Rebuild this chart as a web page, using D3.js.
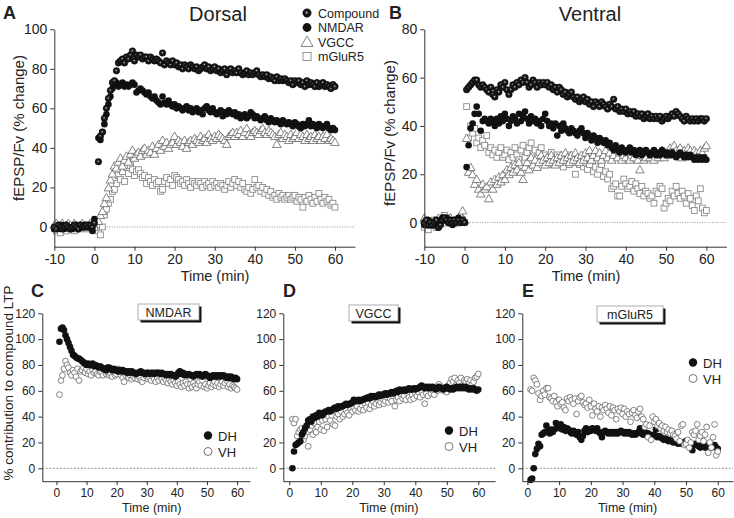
<!DOCTYPE html>
<html><head><meta charset="utf-8">
<script src="https://cdn.jsdelivr.net/npm/d3@7"></script>
<style>body{margin:0;background:#fff}svg{display:block}text{font-family:"Liberation Sans",Arial,sans-serif;fill:#222}</style>
</head><body>
<script>
// ---------- DATA ----------
// Panel A (Dorsal): pre-baseline t=-10..0 step 0.5 ; post t=1..60 step 0.5
const A_pre_compound=[0,-1,1,0,-1,0,1,0,-1,0,1,0,-1,1,0,0,1,0,1,0,2];
const A_pre_nmdar=[-1,0,-1,0,1,-1,0,0,-1,-1,0,1,-1,0,0,1,0,1,0,-2,4];
const A_pre_vgcc=[1,2,0,1,2,0,1,2,1,0,2,1,0,1,2,1,0,1,2,1,0];
const A_pre_mglur5=[-1,-2,0,-3,-1,0,-2,1,-1,0,-2,-1,0,-1,1,0,-1,0,1,-1,-1];
const A_compound=[33,46,48,55,60,65,69,73,74,79,83,84,85,83,86,85,87,89,84,87,86,87,85,86,86,84,86,85,84,85,84,83,88,82,84,83,82,84,82,83,81,82,80,82,81,80,82,81,80,81,79,80,81,82,80,81,79,80,81,79,80,78,79,80,77,79,80,78,79,78,80,78,77,78,79,77,78,77,78,79,77,76,77,76,77,75,76,75,74,76,74,75,74,75,74,73,74,72,74,73,74,72,73,71,74,72,73,72,71,73,71,72,73,71,72,71,70,72,71];
const A_nmdar=[45,44,48,52,57,62,66,70,72,73,71,72,73,71,72,71,72,73,72,68,69,70,69,68,67,68,66,65,66,64,63,62,66,63,62,64,62,61,62,60,61,60,59,60,61,59,60,58,59,60,58,59,57,60,61,59,58,60,58,57,58,59,56,58,57,59,58,57,58,56,57,55,56,57,55,56,58,57,55,56,55,54,55,56,54,53,55,54,53,54,53,52,54,53,52,53,52,51,53,52,51,50,52,51,52,54,51,52,51,50,52,51,50,51,52,50,49,50,49];
const A_vgcc=[3,6,8,12,15,20,24,27,31,30,33,35,31,34,36,33,37,39,35,37,38,36,39,40,37,39,38,41,37,40,42,39,44,41,43,40,42,43,46,42,44,43,41,44,40,43,44,42,45,44,43,46,44,45,43,47,45,44,46,45,47,46,45,44,42,46,47,48,46,48,47,49,46,48,50,47,46,48,49,48,47,49,50,48,47,49,48,47,46,42,47,48,45,47,46,44,47,45,46,48,45,47,46,44,47,45,46,44,47,45,46,44,46,45,47,44,45,44,43];
const A_mglur5=[-2,-4,0,6,9,12,14,18,19,22,26,24,28,23,30,27,31,29,26,28,29,27,25,26,22,25,23,21,24,22,23,18,19,23,25,22,24,21,26,25,24,22,23,21,24,22,20,23,22,21,23,22,20,23,21,22,20,23,21,22,20,22,21,19,21,23,20,22,24,21,23,20,22,19,18,20,17,19,24,20,21,18,20,17,19,16,18,15,16,14,17,15,16,14,15,16,14,15,16,13,15,14,10,15,13,16,14,12,15,13,17,14,12,15,13,14,11,12,10];
// Panel B (Ventral): pre t=-10..0 step 0.5 ; post t=0.5..60 step 0.5
const B_pre_compound=[0,1,-1,0,-1,0,1,-2,-1,1,2,1,0,1,0,1,0,1,0,1,0];
const B_pre_nmdar=[-1,0,1,-1,0,-1,1,-2,0,2,1,2,0,1,-1,0,1,2,1,0,0];
const B_pre_vgcc=[2,0,1,-1,0,1,-1,0,1,2,1,0,1,2,0,1,0,2,3,5,1];
const B_pre_mglur5=[-2,-1,-3,0,-1,1,-2,0,2,1,3,1,2,0,1,0,1,0,2,1,0];
const B_compound=[55,56,57,58,59,59,57,56,57,56,55,54,56,53,52,55,54,57,56,58,55,53,55,57,56,58,57,59,58,60,58,56,57,59,58,56,58,57,58,57,58,56,57,55,56,54,56,55,53,54,52,53,54,52,51,52,50,51,52,50,51,49,50,48,50,49,48,50,49,48,47,49,48,51,47,48,46,47,46,47,45,46,45,46,44,45,44,45,43,44,45,43,44,43,44,43,44,42,43,44,43,44,45,44,46,45,44,43,42,44,43,42,43,42,43,42,43,43,42,43];
const B_nmdar=[23,32,39,41,45,48,45,38,42,43,42,41,43,42,40,43,41,44,42,45,43,40,42,44,43,41,45,42,44,46,43,41,44,42,43,41,42,40,43,45,42,40,41,39,41,36,40,38,41,39,38,37,39,38,37,36,38,39,37,35,37,36,34,36,35,33,35,34,33,34,32,33,31,30,32,30,29,31,30,29,30,31,29,30,28,29,30,28,29,30,29,28,29,30,28,29,28,30,29,28,29,28,29,28,27,28,29,28,27,28,27,28,27,26,27,26,27,26,27,26];
const B_vgcc=[35,21,23,20,16,18,14,12,16,14,15,10,17,14,18,16,19,17,20,18,22,20,23,21,24,22,25,21,18,23,25,22,27,24,26,23,25,28,26,24,27,25,28,26,24,27,25,28,26,29,27,25,28,26,29,27,25,28,26,29,27,30,26,28,30,27,29,26,28,30,27,29,26,28,30,27,29,26,28,27,29,26,28,27,29,26,22,28,26,27,29,27,28,26,29,27,28,30,27,29,28,31,29,32,30,29,31,27,30,28,31,30,28,30,29,28,30,29,31,32];
const B_mglur5=[48,35,40,37,39,33,35,31,34,32,36,29,31,28,30,27,29,31,27,28,30,26,29,27,31,28,26,30,32,27,29,31,33,28,30,27,29,31,26,28,25,27,29,24,26,28,25,27,23,26,28,24,27,25,20,26,24,27,23,25,22,24,26,21,23,20,22,24,19,21,18,20,14,15,16,11,11,15,18,16,14,15,17,13,16,14,12,15,11,13,12,10,11,8,13,12,15,14,6,8,10,9,13,11,15,12,10,13,11,8,12,10,7,5,11,9,14,6,4,5];
// Panels C-E: % contribution, t=1..60 step 0.5
const C_dh=[98,108,109,107,103,100,97,94,91,88,87,86,85,85,84,83,82,81,80,81,80,80,81,79,80,79,78,79,78,77,77,76,78,78,77,76,77,76,76,75,76,75,76,75,75,74,75,74,75,74,74,73,74,74,75,74,74,73,74,74,73,74,74,73,74,74,74,73,74,73,73,72,73,72,73,72,72,71,72,74,75,73,74,72,73,72,73,72,72,71,72,73,72,73,72,71,72,73,72,71,70,71,72,71,72,71,72,71,72,72,71,70,71,70,71,70,69,70,69];
const C_vh=[57,68,72,77,83,80,78,74,72,76,74,71,77,68,75,76,78,74,77,73,75,72,76,74,75,73,72,75,74,72,76,73,74,72,73,71,74,72,73,77,74,72,70,67,72,73,70,72,69,71,70,72,69,71,68,67,70,72,71,69,70,68,71,69,67,70,68,71,69,67,70,68,66,69,67,65,68,66,64,67,65,63,66,64,67,65,62,65,63,66,64,62,65,67,64,68,63,65,62,64,66,63,65,67,64,66,63,65,67,64,66,68,63,65,62,64,63,62,61];
const D_dh=[0,13,18,19,20,21,26,28,31,33,37,38,36,40,39,41,40,43,42,41,43,44,44,45,44,45,46,47,46,48,47,48,48,49,50,49,50,50,51,53,52,52,53,52,53,53,54,54,55,54,56,55,56,55,56,57,56,57,57,58,57,58,58,59,58,59,60,59,61,60,60,61,60,61,62,61,61,62,61,62,62,63,64,63,62,63,62,63,62,63,62,61,62,63,62,62,61,62,63,62,61,62,61,62,63,62,63,62,63,62,63,62,61,62,61,62,61,60,61];
const D_vh=[38,35,38,25,28,30,31,22,25,28,17,30,33,26,35,28,32,36,30,37,29,38,32,40,37,41,34,33,40,42,38,44,40,42,45,43,41,46,44,47,45,48,44,46,49,45,50,47,51,46,49,52,48,50,53,49,51,54,50,52,55,51,54,52,56,48,53,55,52,57,54,56,53,58,55,53,57,54,58,56,59,55,60,57,50,58,56,62,58,60,57,63,60,65,61,63,60,62,59,64,66,69,67,70,65,68,66,70,64,68,67,69,66,68,65,67,70,71,73];
const E_dh=[-9,-8,0,11,15,19,17,26,27,28,33,29,27,30,28,30,35,32,31,34,30,32,29,31,30,28,27,29,28,26,28,24,22,25,29,31,28,30,29,31,30,29,31,28,27,24,28,29,28,27,28,27,28,27,28,27,28,29,28,27,28,27,28,27,26,27,26,27,28,31,27,26,28,26,27,25,26,25,26,30,24,25,24,23,22,23,22,21,22,21,20,21,20,19,20,19,20,19,21,20,18,19,14,18,19,18,17,16,17,18,16,17,18,17,16,17,18,16,15];
const E_vh=[61,60,70,68,65,58,53,56,60,57,62,62,55,54,52,56,51,48,53,50,51,47,45,54,52,55,53,50,54,42,52,55,56,51,49,50,47,53,48,41,50,46,44,48,40,47,45,49,46,43,48,41,47,45,38,46,44,47,42,46,40,44,42,36,43,45,41,39,44,46,40,38,32,34,24,33,22,40,36,38,33,35,31,33,29,32,28,30,27,29,26,25,23,28,21,33,34,18,19,22,16,20,28,26,29,34,22,25,28,21,26,32,12,20,16,24,34,10,13];
// tick values
const abXTicks=[-10,0,10,20,30,40,50,60];
const aYTicks=[0,20,40,60,80,100];
const bYTicks=[0,20,40,60,80];
const cXTicks=[0,10,20,30,40,50,60];
const cYTicks=[0,20,40,60,80,100,120];
const legendA=["Compound","NMDAR","VGCC","mGluR5"];

// ---------- DRAW ----------
const W=734,H=518;
const svg=d3.select("body").append("svg").attr("width",W).attr("height",H);
const defs=svg.append("defs");
const g1=defs.append("radialGradient").attr("id","sph").attr("cx","0.5").attr("cy","0.5").attr("r","0.5").attr("fx","0.45").attr("fy","0.42");
g1.append("stop").attr("offset","0").attr("stop-color","#e8e8e8");
g1.append("stop").attr("offset","0.16").attr("stop-color","#777");
g1.append("stop").attr("offset","0.38").attr("stop-color","#222");
g1.append("stop").attr("offset","1").attr("stop-color","#080808");

const toPts=(arr,t0)=>arr.map((v,i)=>({t:t0+i*0.5,v}));
const AX="#333";

function axes(x,y,xt,yt,fs){
  const gx=svg.append("g").attr("transform",`translate(0,${y.range()[0]})`)
    .call(d3.axisBottom(x).tickValues(xt).tickFormat(d=>String(d)).tickSize(4).tickSizeOuter(0).tickPadding(3));
  const gy=svg.append("g").attr("transform",`translate(${x.range()[0]},0)`)
    .call(d3.axisLeft(y).tickValues(yt).tickFormat(d=>String(d)).tickSize(4).tickSizeOuter(0).tickPadding(3));
  [gx,gy].forEach(g=>{g.selectAll("path,line").attr("stroke",AX).attr("stroke-width",1);
    g.selectAll("text").style("font-family","'Liberation Sans',Arial,sans-serif").style("font-size",fs+"px").attr("fill","#222");});
}
function zeroLine(x,y,x0,x1,dash){
  svg.append("line").attr("x1",x0).attr("x2",x1).attr("y1",y(0)).attr("y2",y(0))
    .attr("stroke","#777").attr("stroke-width",0.8).attr("stroke-dasharray",dash);
}
function squares(x,y,pts,s){
  svg.append("g").selectAll("rect").data(pts).join("rect")
   .attr("x",d=>x(d.t)-s/2).attr("y",d=>y(d.v)-s/2).attr("width",s).attr("height",s)
   .attr("fill","#fff").attr("stroke","#8a8a8a").attr("stroke-width",0.9);
}
function tri(x,y,pts,s){
  const p=d3.symbol().type(d3.symbolTriangle).size(s);
  svg.append("g").selectAll("path").data(pts).join("path")
   .attr("d",p).attr("transform",d=>`translate(${x(d.t)},${y(d.v)+1})`)
   .attr("fill","#fff").attr("stroke","#666").attr("stroke-width",0.8);
}
function dots(x,y,pts,r,fill,stroke,sw){
  svg.append("g").selectAll("circle").data(pts).join("circle")
   .attr("cx",d=>x(d.t)).attr("cy",d=>y(d.v)).attr("r",r)
   .attr("fill",fill).attr("stroke",stroke||"none").attr("stroke-width",sw||0);
}
function txt(x,y,s,size,opts={}){
  const t=svg.append("text").attr("x",x).attr("y",y).text(s).style("font-size",size+"px");
  if(opts.anchor) t.attr("text-anchor",opts.anchor);
  if(opts.bold) t.style("font-weight","bold");
  if(opts.rot) t.attr("transform",`rotate(-90,${x},${y})`);
  return t;
}

// Panel A
{
  const x=d3.scaleLinear().domain([-10,65]).range([54.3,355]);
  const y=d3.scaleLinear().domain([-10,100]).range([246.7,29.3]);
  zeroLine(x,y,x(0),x(65),"1,1.5");
  squares(x,y,toPts(A_pre_mglur5,-10).concat(toPts(A_mglur5,1)),5.8);
  tri(x,y,toPts(A_pre_vgcc,-10).concat(toPts(A_vgcc,1)),32);
  dots(x,y,toPts(A_pre_nmdar,-10).concat(toPts(A_nmdar,1)),3.3,"#111");
  dots(x,y,toPts(A_pre_compound,-10).concat(toPts(A_compound,1)),3.3,"url(#sph)","#111",0.5);
  axes(x,y,abXTicks,aYTicks,14);
  txt(215,281,"Time (min)",14.5,{anchor:"middle"});
  txt(24,128,"fEPSP/Fv (% change)",15,{anchor:"middle",rot:true});
  txt(218,21,"Dorsal",20,{anchor:"middle"});
  txt(3,19,"A",18,{bold:true});
  // legend
  const ly=[13,27.5,42,56.5];
  svg.append("circle").attr("cx",307).attr("cy",ly[0]).attr("r",4.2).attr("fill","url(#sph)").attr("stroke","#111").attr("stroke-width",0.5);
  svg.append("circle").attr("cx",307).attr("cy",ly[1]).attr("r",4.4).attr("fill","#111");
  svg.append("path").attr("d",d3.symbol().type(d3.symbolTriangle).size(62)).attr("transform",`translate(307,${ly[2]+1})`).attr("fill","#fff").attr("stroke","#666").attr("stroke-width",0.8);
  svg.append("rect").attr("x",303).attr("y",ly[3]-4).attr("width",8).attr("height",8).attr("fill","#fff").attr("stroke","#8a8a8a").attr("stroke-width",0.9);
  legendA.forEach((s,i)=>txt(318,ly[i]+4.5,s,12.5));
}
// Panel B
{
  const x=d3.scaleLinear().domain([-10,65]).range([424.3,726.5]);
  const y=d3.scaleLinear().domain([-10,80]).range([246.7,29.3]);
  zeroLine(x,y,x(0),x(65),"1,1.5");
  squares(x,y,toPts(B_pre_mglur5,-10).concat(toPts(B_mglur5,0.5)),5.8);
  tri(x,y,toPts(B_pre_vgcc,-10).concat(toPts(B_vgcc,0.5)),32);
  dots(x,y,toPts(B_pre_nmdar,-10).concat(toPts(B_nmdar,0.5)),3.3,"#111");
  dots(x,y,toPts(B_pre_compound,-10).concat(toPts(B_compound,0.5)),3.3,"url(#sph)","#111",0.5);
  axes(x,y,abXTicks,bYTicks,14);
  txt(586,281,"Time (min)",14.5,{anchor:"middle"});
  txt(395,133,"fEPSP/Fv (% change)",15,{anchor:"middle",rot:true});
  txt(590,21,"Ventral",20,{anchor:"middle"});
  txt(389,19,"B",18,{bold:true});
}
// Bottom panels
function bottom(cfg){
  const x=d3.scaleLinear().domain(cfg.xd).range(cfg.xr);
  const y=d3.scaleLinear().domain([-10,120]).range([481.2,313.3]);
  zeroLine(x,y,cfg.xr[0],cfg.zEnd,"2,1.5");
  if(cfg.vhFirst){
    dots(x,y,toPts(cfg.vh,1),2.9,"#fff","#666",0.8);
    dots(x,y,toPts(cfg.dh,1),3.3,"#111");
  } else {
    dots(x,y,toPts(cfg.dh,1),3.3,"#111");
    dots(x,y,toPts(cfg.vh,1),2.9,"#fff","#666",0.8);
  }
  axes(x,y,cXTicks,cYTicks,12);
  txt(x(30)+5,512,"Time (min)",12.5,{anchor:"middle"});
  txt(cfg.lab[0],297,cfg.lab[1],18,{bold:true});
  // boxed label
  const b=cfg.box;
  svg.append("rect").attr("x",b[0]+2.5).attr("y",b[1]+2.5).attr("width",b[2]).attr("height",b[3]).attr("fill","#111");
  svg.append("rect").attr("x",b[0]).attr("y",b[1]).attr("width",b[2]).attr("height",b[3]).attr("fill","#fff").attr("stroke","#999").attr("stroke-width",0.8);
  txt(b[0]+b[2]/2,b[1]+b[3]/2+4.5,cfg.name,12.5,{anchor:"middle"});
  // legend
  const l=cfg.leg;
  svg.append("circle").attr("cx",l[0]).attr("cy",l[1]).attr("r",4.2).attr("fill","#111");
  svg.append("circle").attr("cx",l[0]).attr("cy",l[1]+16).attr("r",4).attr("fill","#fff").attr("stroke","#555").attr("stroke-width",0.8);
  txt(l[0]+10,l[1]+5,"DH",13);
  txt(l[0]+10,l[1]+21,"VH",13);
}
bottom({xd:[-4.7,64.3],xr:[42.3,250],zEnd:257,dh:C_dh,vh:C_vh,vhFirst:true,lab:[31,"C"],box:[138,304,61,16],name:"NMDAR",leg:[208,435.5]});
bottom({xd:[-1.9,65.3],xr:[283.3,495],zEnd:497,dh:D_dh,vh:D_vh,vhFirst:true,lab:[283,"D"],box:[349,305,49,16],name:"VGCC",leg:[449,430.5]});
bottom({xd:[-1.6,64.8],xr:[522.3,733],zEnd:733,dh:E_dh,vh:E_vh,vhFirst:false,lab:[522,"E"],box:[597,306,66,16],name:"mGluR5",leg:[693,362.5]});
txt(13,383,"% contribution to compound LTP",13.5,{anchor:"middle",rot:true});
</script>
</body></html>
